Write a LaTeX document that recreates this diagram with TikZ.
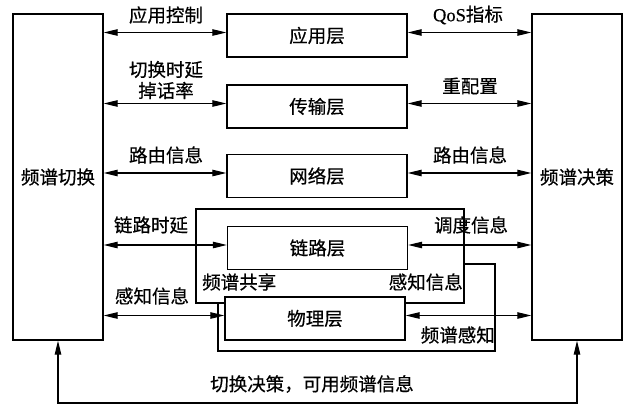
\documentclass[tikz,border=0pt]{standalone}
\usepackage{fontspec}
\setmainfont{Liberation Serif}
\newfontfamily\cjk[FakeBold=0.5]{Noto Sans CJK SC}
\newfontfamily\latn[FakeBold=0.5]{Liberation Serif}
\usetikzlibrary{arrows.meta}
\begin{document}
\begin{tikzpicture}[x=1pt,y=-1pt,
  font=\cjk\fontsize{18.5}{21}\selectfont,
  box/.style={draw,line width=1.4pt,fill=white,inner sep=0pt},
  layer/.style={box,minimum width=180pt,minimum height=43pt},
  side/.style={box,minimum width=90pt,minimum height=326pt},
  frame/.style={draw,line width=1.4pt,inner sep=0pt},
  dbl/.style={line width=1.1pt,{Triangle[length=14pt,width=6.5pt]}-{Triangle[length=14pt,width=6.5pt]}},
  lbl/.style={inner sep=0pt}]
\useasboundingbox (0,0) rectangle (626,407);
% side boxes
\node[side] (L) at (58,177) {频谱切换};
\node[side] (R) at (577,177) {频谱决策};
% frames
\node[frame,minimum width=277pt,minimum height=87pt] (F2) at (356.5,307.5) {};
\node[frame,fill=white,minimum width=268pt,minimum height=94pt] (F1) at (330,256) {};
% layers
\node[layer] (A) at (317,35.5) {应用层};
\node[layer] (T) at (317,106.5) {传输层};
\node[layer] (N) at (317,176) {网络层};
\node[layer] (K) at (317.5,248) {链路层};
\node[layer] (P) at (315,318.5) {物理层};
% arrow rows
\foreach \n in {A,T,N,K,P}{
  \path ([yshift=3pt]\n.west) coordinate (\n w) ([yshift=3pt]\n.east) coordinate (\n e);
  \draw[dbl] (\n w -| L.east) -- (\n w);
  \draw[dbl] (\n e) -- (\n e -| R.west);
}
% bottom connector
\coordinate (bot) at (317,403);
\draw[dbl] (L.south) |- (bot) -| (R.south);
% labels left
\node[lbl] (la) at (166,15) {应用控制};
\node[lbl,align=center] (lt) at (166,80) {切换时延\\掉话率};
\node[lbl] (ln) at (166,155) {路由信息};
\node[lbl] (lk) at (151,225) {链路时延};
\node[lbl] (lp) at (152,296) {感知信息};
% labels right
\node[lbl] (ra) at (468,15) {{\latn QoS}指标};
\node[lbl] (rt) at (470,86) {重配置};
\node[lbl] (rn) at (470,155) {路由信息};
\node[lbl] (rk) at (471,225) {调度信息};
% frame labels
\node[lbl,anchor=west] (fs) at (202,282) {频谱共享};
\node[lbl,anchor=east] (fk) at (463,282) {感知信息};
\node[lbl,anchor=east] (fp) at (495,335) {频谱感知};
% bottom label
\node[lbl] (lb) at (312,384) {切换决策，可用频谱信息};
\end{tikzpicture}
\end{document}
